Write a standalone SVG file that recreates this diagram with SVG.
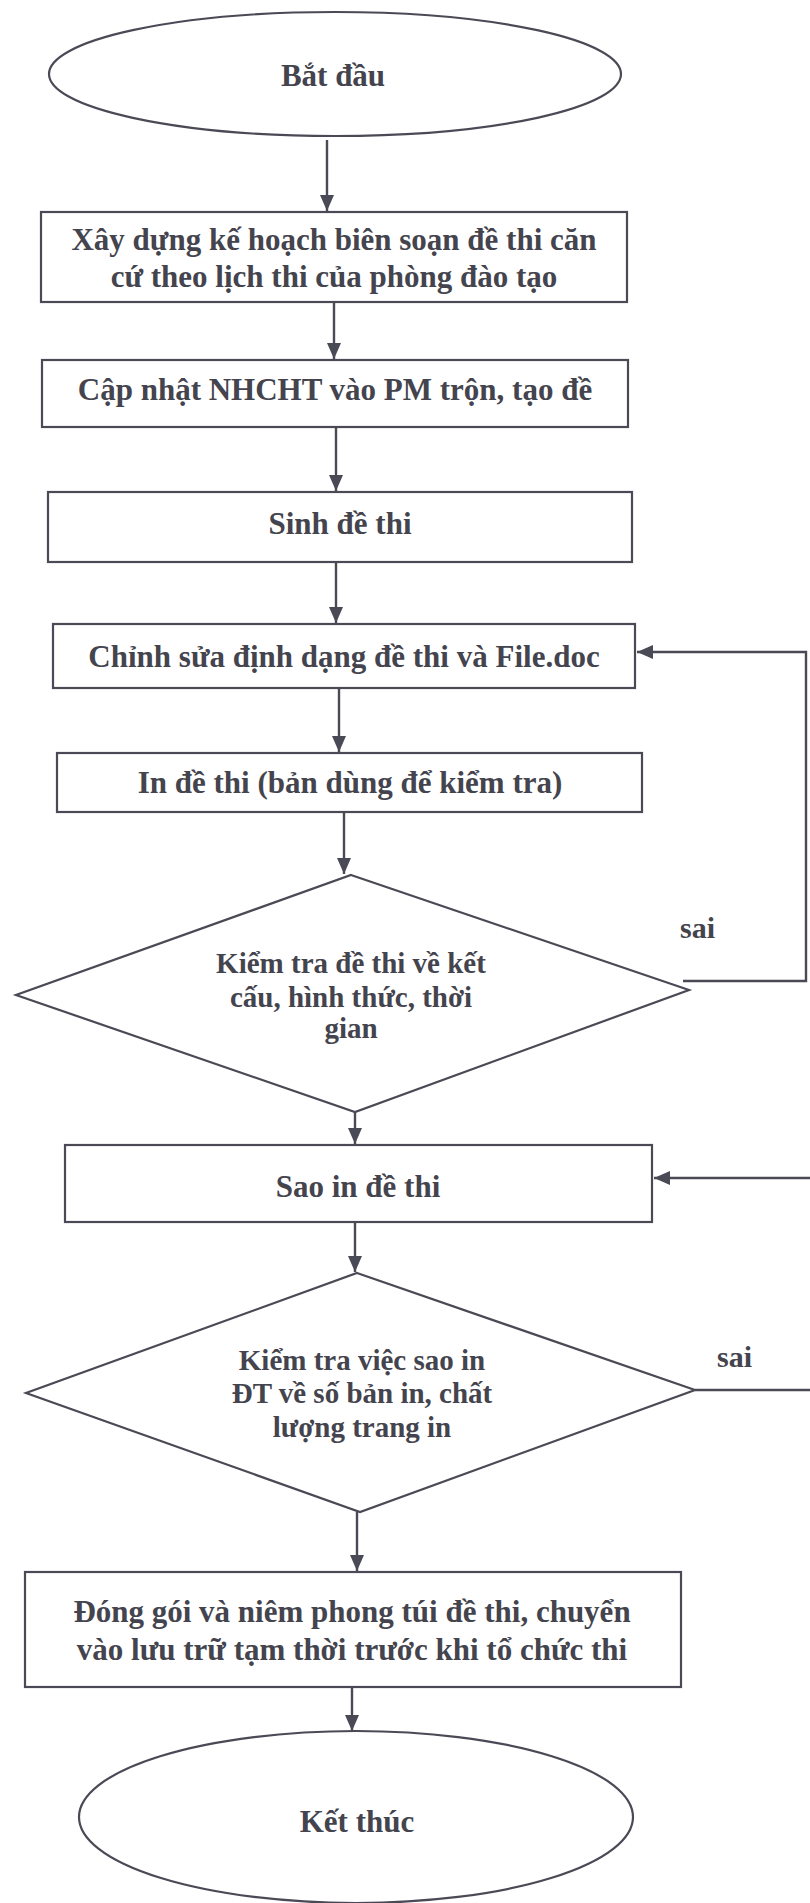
<svg xmlns="http://www.w3.org/2000/svg" width="810" height="1903" viewBox="0 0 810 1903">
<style>
.shape{fill:#fff;stroke:#4a4a56;stroke-width:2.2}
.conn{fill:none;stroke:#4a4a56;stroke-width:2.4}
.t{font-family:"Liberation Serif","Times New Roman",serif;font-weight:bold;font-size:31px;fill:#44444e;text-anchor:middle}
.d{font-size:29px}
.s{font-size:30px;text-anchor:start}
</style>
<defs>
<marker id="ah" viewBox="0 0 16 14" refX="16" refY="7" markerWidth="16" markerHeight="14" markerUnits="userSpaceOnUse" orient="auto">
<path d="M0,0 L16,7 L0,14 Z" fill="#4a4a56"/>
</marker>
</defs>
<rect width="810" height="1903" fill="#fff"/>
<g id="connectors">
<line class="conn" x1="327" y1="140" x2="327" y2="211" marker-end="url(#ah)"/>
<line class="conn" x1="334" y1="303" x2="334" y2="359" marker-end="url(#ah)"/>
<line class="conn" x1="336" y1="428" x2="336" y2="491" marker-end="url(#ah)"/>
<line class="conn" x1="336" y1="563" x2="336" y2="623" marker-end="url(#ah)"/>
<line class="conn" x1="339" y1="689" x2="339" y2="752" marker-end="url(#ah)"/>
<line class="conn" x1="344" y1="813" x2="344" y2="874" marker-end="url(#ah)"/>
<polyline class="conn" points="683,981 806,981 806,652 637,652" marker-end="url(#ah)"/>
<line class="conn" x1="355" y1="1097" x2="355" y2="1144" marker-end="url(#ah)"/>
<line class="conn" x1="812" y1="1178" x2="654" y2="1178" marker-end="url(#ah)"/>
<line class="conn" x1="355" y1="1223" x2="355" y2="1272" marker-end="url(#ah)"/>
<line class="conn" x1="695" y1="1390" x2="812" y2="1390"/>
<line class="conn" x1="357" y1="1512" x2="357" y2="1571" marker-end="url(#ah)"/>
<line class="conn" x1="352" y1="1688" x2="352" y2="1731" marker-end="url(#ah)"/>
<text class="t s" x="680" y="938">sai</text>
<text class="t s" x="717" y="1367">sai</text>
</g>
<g id="start">
<ellipse class="shape" cx="335" cy="74" rx="286" ry="62"/>
<text class="t" x="333" y="86">Bắt đầu</text>
</g>
<g id="plan">
<rect class="shape" x="41" y="212" width="586" height="90"/>
<text class="t" x="334" y="250">Xây dựng kế hoạch biên soạn đề thi căn</text>
<text class="t" x="334" y="287">cứ theo lịch thi của phòng đào tạo</text>
</g>
<g id="update">
<rect class="shape" x="42" y="360" width="586" height="67"/>
<text class="t" x="335" y="400">Cập nhật NHCHT vào PM trộn, tạo đề</text>
</g>
<g id="generate">
<rect class="shape" x="48" y="492" width="584" height="70"/>
<text class="t" x="340" y="534">Sinh đề thi</text>
</g>
<g id="edit">
<rect class="shape" x="53" y="624" width="582" height="64"/>
<text class="t" x="344" y="667">Chỉnh sửa định dạng đề thi và File.doc</text>
</g>
<g id="print">
<rect class="shape" x="57" y="753" width="585" height="59"/>
<text class="t" x="350" y="793">In đề thi (bản dùng để kiểm tra)</text>
</g>
<g id="check1">
<polygon class="shape" points="351,875 689,990 355,1112 16,995"/>
<text class="t d" x="351" y="973">Kiểm tra đề thi về kết</text>
<text class="t d" x="351" y="1007">cấu, hình thức, thời</text>
<text class="t d" x="351" y="1038">gian</text>
</g>
<g id="copy">
<rect class="shape" x="65" y="1145" width="587" height="77"/>
<text class="t" x="358" y="1197">Sao in đề thi</text>
</g>
<g id="check2">
<polygon class="shape" points="357,1273 695,1390 360,1512 26,1393"/>
<text class="t d" x="362" y="1370">Kiểm tra việc sao in</text>
<text class="t d" x="362" y="1403">ĐT về số bản in, chất</text>
<text class="t d" x="362" y="1437">lượng trang in</text>
</g>
<g id="pack">
<rect class="shape" x="25" y="1572" width="656" height="115"/>
<text class="t" x="352" y="1622">Đóng gói và niêm phong túi đề thi, chuyển</text>
<text class="t" x="352" y="1660">vào lưu trữ tạm thời trước khi tổ chức thi</text>
</g>
<g id="end">
<ellipse class="shape" cx="356" cy="1817" rx="277" ry="86"/>
<text class="t" x="357" y="1832">Kết thúc</text>
</g>
</svg>
